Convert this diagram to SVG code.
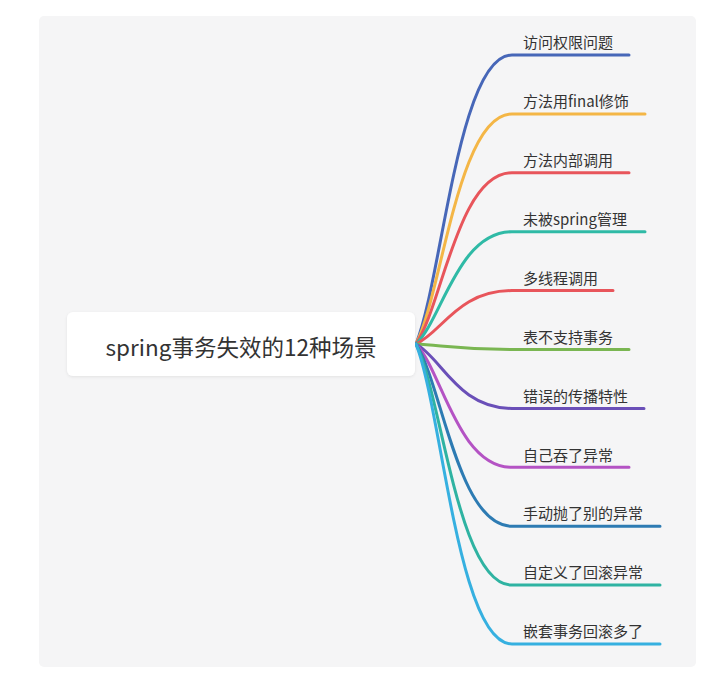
<svg xmlns="http://www.w3.org/2000/svg" width="728" height="688" viewBox="0 0 728 688">
  <defs>
    <filter id="sh" x="-10%" y="-30%" width="120%" height="160%">
      <feDropShadow dx="0" dy="1" stdDeviation="1.5" flood-color="#000" flood-opacity="0.08"/>
    </filter>
  </defs>
  <style>
    .br{fill:none;stroke-width:3;stroke-linecap:round}
    .lbl{font-family:"Noto Sans CJK SC","Microsoft YaHei",sans-serif;font-size:15px;fill:#333}
    .root{font-family:"Noto Sans CJK SC","Microsoft YaHei",sans-serif;font-size:22.5px;fill:#333}
  </style>
  <rect x="0" y="0" width="728" height="688" fill="#ffffff"/>
  <rect x="39" y="16" width="657" height="651" rx="5" fill="#f5f5f6"/>
  <g id="connectors">
    <path class="br" stroke="#4767b8" d="M416 344 C442 280.4 458 55 512 55 L629 55"/>
    <path class="br" stroke="#f4b646" d="M416 344 C442 293.4 458 113.9 512 113.9 L645 113.9"/>
    <path class="br" stroke="#e8555b" d="M416 344 C442 306.3 458 172.8 512 172.8 L629 172.8"/>
    <path class="br" stroke="#2fbaa6" d="M416 344 C442 319.3 458 231.7 512 231.7 L645 231.7"/>
    <path class="br" stroke="#e8555b" d="M416 344 C442 332.3 458 290.6 512 290.6 L613 290.6"/>
    <path class="br" stroke="#7ab652" d="M416 344 C442 345.2 458 349.5 512 349.5 L629 349.5"/>
    <path class="br" stroke="#6a4fb8" d="M416 344 C442 358.2 458 408.4 512 408.4 L644 408.4"/>
    <path class="br" stroke="#b453c4" d="M416 344 C442 371.1 458 467.3 512 467.3 L629 467.3"/>
    <path class="br" stroke="#2d7bb3" d="M416 344 C442 384.1 458 526.2 512 526.2 L660 526.2"/>
    <path class="br" stroke="#2fb3a2" d="M416 344 C442 397 458 585.1 512 585.1 L660 585.1"/>
    <path class="br" stroke="#36b0e0" d="M416 344 C442 410 458 644 512 644 L660 644"/>
  </g>
  <g id="root">
    <rect x="67" y="312" width="348" height="64" rx="6" fill="#ffffff" filter="url(#sh)"/>
    <text class="root" x="241" y="356" text-anchor="middle">spring事务失效的12种场景</text>
  </g>
  <g id="n1"><text class="lbl" x="523" y="48">访问权限问题</text></g>
  <g id="n2"><text class="lbl" x="523" y="107">方法用final修饰</text></g>
  <g id="n3"><text class="lbl" x="523" y="166">方法内部调用</text></g>
  <g id="n4"><text class="lbl" x="523" y="225">未被spring管理</text></g>
  <g id="n5"><text class="lbl" x="523" y="284">多线程调用</text></g>
  <g id="n6"><text class="lbl" x="523" y="342.5">表不支持事务</text></g>
  <g id="n7"><text class="lbl" x="523" y="401.5">错误的传播特性</text></g>
  <g id="n8"><text class="lbl" x="523" y="460.5">自己吞了异常</text></g>
  <g id="n9"><text class="lbl" x="523" y="519">手动抛了别的异常</text></g>
  <g id="n10"><text class="lbl" x="523" y="578">自定义了回滚异常</text></g>
  <g id="n11"><text class="lbl" x="523" y="637">嵌套事务回滚多了</text></g>
</svg>
